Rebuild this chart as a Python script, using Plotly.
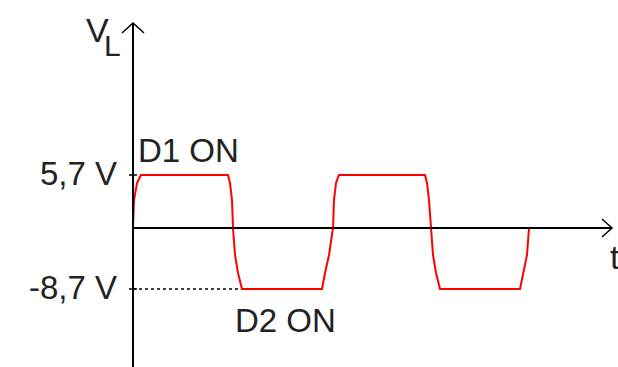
import plotly.graph_objects as go

# ---- data (t in arbitrary time units, v in display units of the sketch) ----
t_vals = [0, 0.1, 0.4, 0.8, 9.5, 9.7, 9.9, 10.0, 10.2, 10.5, 10.9,
          18.9, 19.2, 19.6, 20.0, 20.1, 20.3, 20.6, 29.2, 29.4, 29.6,
          29.8, 30.0, 30.3, 30.7, 38.7, 39.0, 39.4, 39.6]
v_vals = [0, 3.0, 4.84, 5.7, 5.7, 4.84, 3.0, 0, -2.9, -4.84, -6.56,
          -6.56, -4.84, -2.9, 0, 3.0, 4.84, 5.7, 5.7, 4.84, 3.0,
          0, -2.9, -4.84, -6.56, -6.56, -4.84, -2.9, 0]
level_vals = [5.7, -6.56]
level_labels = ["5,7 V", "-8,7 V"]
state_labels = ["D1 ON", "D2 ON"]

W, H = 618, 367
X0, Y0 = 133, 228           # pixel of origin
SX, SY = 10.0, 53 / 5.7     # pixels per unit


def tx(px):
    return (px - X0) / SX


def vy(py):
    return (Y0 - py) / SY


FONT = "Liberation Sans, Arial, sans-serif"
TXT = "#222"
fig = go.Figure()

# dotted guide at negative level
fig.add_trace(go.Scatter(x=[0, t_vals[10]], y=[level_vals[1], level_vals[1]], mode="lines",
                         line=dict(color="black", width=1.5, dash="dot"),
                         hoverinfo="skip", showlegend=False))
# waveform
fig.add_trace(go.Scatter(x=t_vals, y=v_vals, mode="lines",
                         line=dict(color="#ff0000", width=2),
                         showlegend=False))

shapes = []
shapes.append(dict(type="line", x0=0, x1=tx(611), y0=0, y1=0,
                   line=dict(color="black", width=2)))
shapes.append(dict(type="line", x0=0, x1=0, y0=vy(375), y1=vy(23),
                   line=dict(color="black", width=2)))
shapes.append(dict(type="path",
                   path=f"M {tx(122)} {vy(33)} L {tx(133)} {vy(23)} L {tx(144)} {vy(33)}",
                   line=dict(color="black", width=1.5)))
shapes.append(dict(type="path",
                   path=f"M {tx(602)} {vy(219)} L {tx(612)} {vy(228)} L {tx(602)} {vy(237)}",
                   line=dict(color="black", width=1.5)))
for lv in level_vals:
    shapes.append(dict(type="line", x0=tx(129), x1=tx(137), y0=lv, y1=lv,
                       line=dict(color="black", width=1.5)))

ann = []
for lv, lab in zip(level_vals, level_labels):
    ann.append(dict(x=tx(119), y=lv + vy(226), text=lab, showarrow=False,
                    xanchor="right", yanchor="middle",
                    font=dict(family=FONT, size=33, color=TXT)))
ann.append(dict(x=tx(136), y=vy(150), text=state_labels[0], showarrow=False,
                xanchor="left", yanchor="middle",
                font=dict(family=FONT, size=33, color=TXT)))
ann.append(dict(x=tx(233), y=vy(320), text=state_labels[1], showarrow=False,
                xanchor="left", yanchor="middle",
                font=dict(family=FONT, size=33, color=TXT)))
ann.append(dict(x=tx(97), y=vy(30), text="V", showarrow=False,
                xanchor="center", yanchor="middle",
                font=dict(family=FONT, size=34, color=TXT)))
ann.append(dict(x=tx(112), y=vy(45), text="L", showarrow=False,
                xanchor="center", yanchor="middle",
                font=dict(family=FONT, size=30, color=TXT)))
ann.append(dict(x=tx(608), y=vy(257), text="t", showarrow=False,
                xanchor="left", yanchor="middle",
                font=dict(family=FONT, size=34, color=TXT)))

fig.update_layout(
    width=W, height=H, margin=dict(l=0, r=0, t=0, b=0),
    paper_bgcolor="white", plot_bgcolor="white",
    xaxis=dict(range=[tx(0), tx(W)], visible=False, fixedrange=True),
    yaxis=dict(range=[vy(H), vy(0)], visible=False, fixedrange=True),
    shapes=shapes, annotations=ann, showlegend=False,
)
fig.write_html("out.html", config={"displayModeBar": False},
               post_script="document.body.style.margin='0';document.body.style.overflow='hidden';")
